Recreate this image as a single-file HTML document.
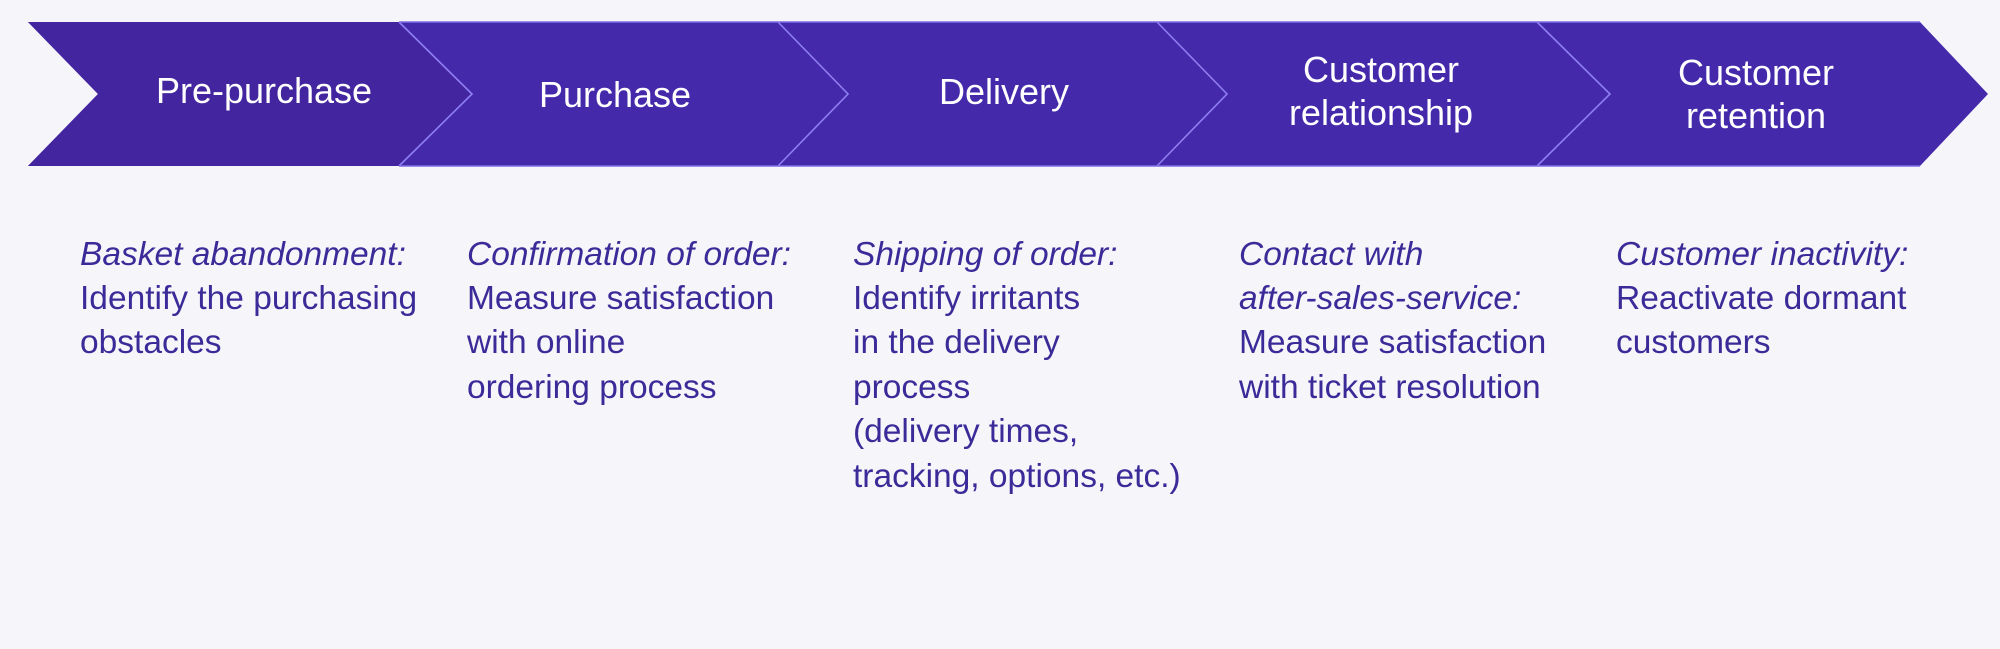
<!DOCTYPE html>
<html><head><meta charset="utf-8"><style>
html,body{margin:0;padding:0;background:#f5f5fa;}
svg{display:block}
.h{font-family:"Liberation Sans",sans-serif;font-size:36px;fill:#fff;text-anchor:middle}
.b{font-family:"Liberation Sans",sans-serif;font-size:33.5px;fill:#3b2b99}
.i{font-style:italic}
</style></head><body>
<svg width="2000" height="649" viewBox="0 0 2000 649" xmlns="http://www.w3.org/2000/svg">
<rect width="2000" height="649" fill="#f5f5fa"/>
<polygon points="28,22 1920,22 1988,94 1920,166 28,166 98,94" fill="#4529ab"/>
<polygon points="28,22 399,22 472,94 399,166 28,166 98,94" fill="#43259f"/>
<g stroke="#8f7ff2" stroke-width="1.6" fill="none">
<polyline points="399,22 472,94 399,166"/>
<polyline points="778,22 848,94 778,166"/>
<polyline points="1157,22 1227,94 1157,166"/>
<polyline points="1537,22 1610,94 1537,166"/>
<line x1="399" y1="22" x2="1920" y2="22" stroke="#7f6de6"/>
<line x1="399" y1="166" x2="1920" y2="166" stroke="#7f6de6"/>
</g>
<text class="h" x="264" y="103">Pre-purchase</text>
<text class="h" x="615" y="107">Purchase</text>
<text class="h" x="1004" y="104">Delivery</text>
<text class="h" x="1381" y="82">Customer</text>
<text class="h" x="1381" y="125">relationship</text>
<text class="h" x="1756" y="85">Customer</text>
<text class="h" x="1756" y="128">retention</text>
<g>
<text x="80" y="265" class="b i">Basket abandonment:</text>
<text x="80" y="309" class="b">Identify the purchasing</text>
<text x="80" y="353" class="b">obstacles</text>
<text x="467" y="265" class="b i">Confirmation of order:</text>
<text x="467" y="309" class="b">Measure satisfaction</text>
<text x="467" y="353" class="b">with online</text>
<text x="467" y="398" class="b">ordering process</text>
<text x="853" y="265" class="b i">Shipping of order:</text>
<text x="853" y="309" class="b">Identify irritants</text>
<text x="853" y="353" class="b">in the delivery</text>
<text x="853" y="398" class="b">process</text>
<text x="853" y="442" class="b">(delivery times,</text>
<text x="853" y="487" class="b">tracking, options, etc.)</text>
<text x="1239" y="265" class="b i">Contact with</text>
<text x="1239" y="309" class="b i">after-sales-service:</text>
<text x="1239" y="353" class="b">Measure satisfaction</text>
<text x="1239" y="398" class="b">with ticket resolution</text>
<text x="1616" y="265" class="b i">Customer inactivity:</text>
<text x="1616" y="309" class="b">Reactivate dormant</text>
<text x="1616" y="353" class="b">customers</text>
</g>
</svg>
</body></html>
